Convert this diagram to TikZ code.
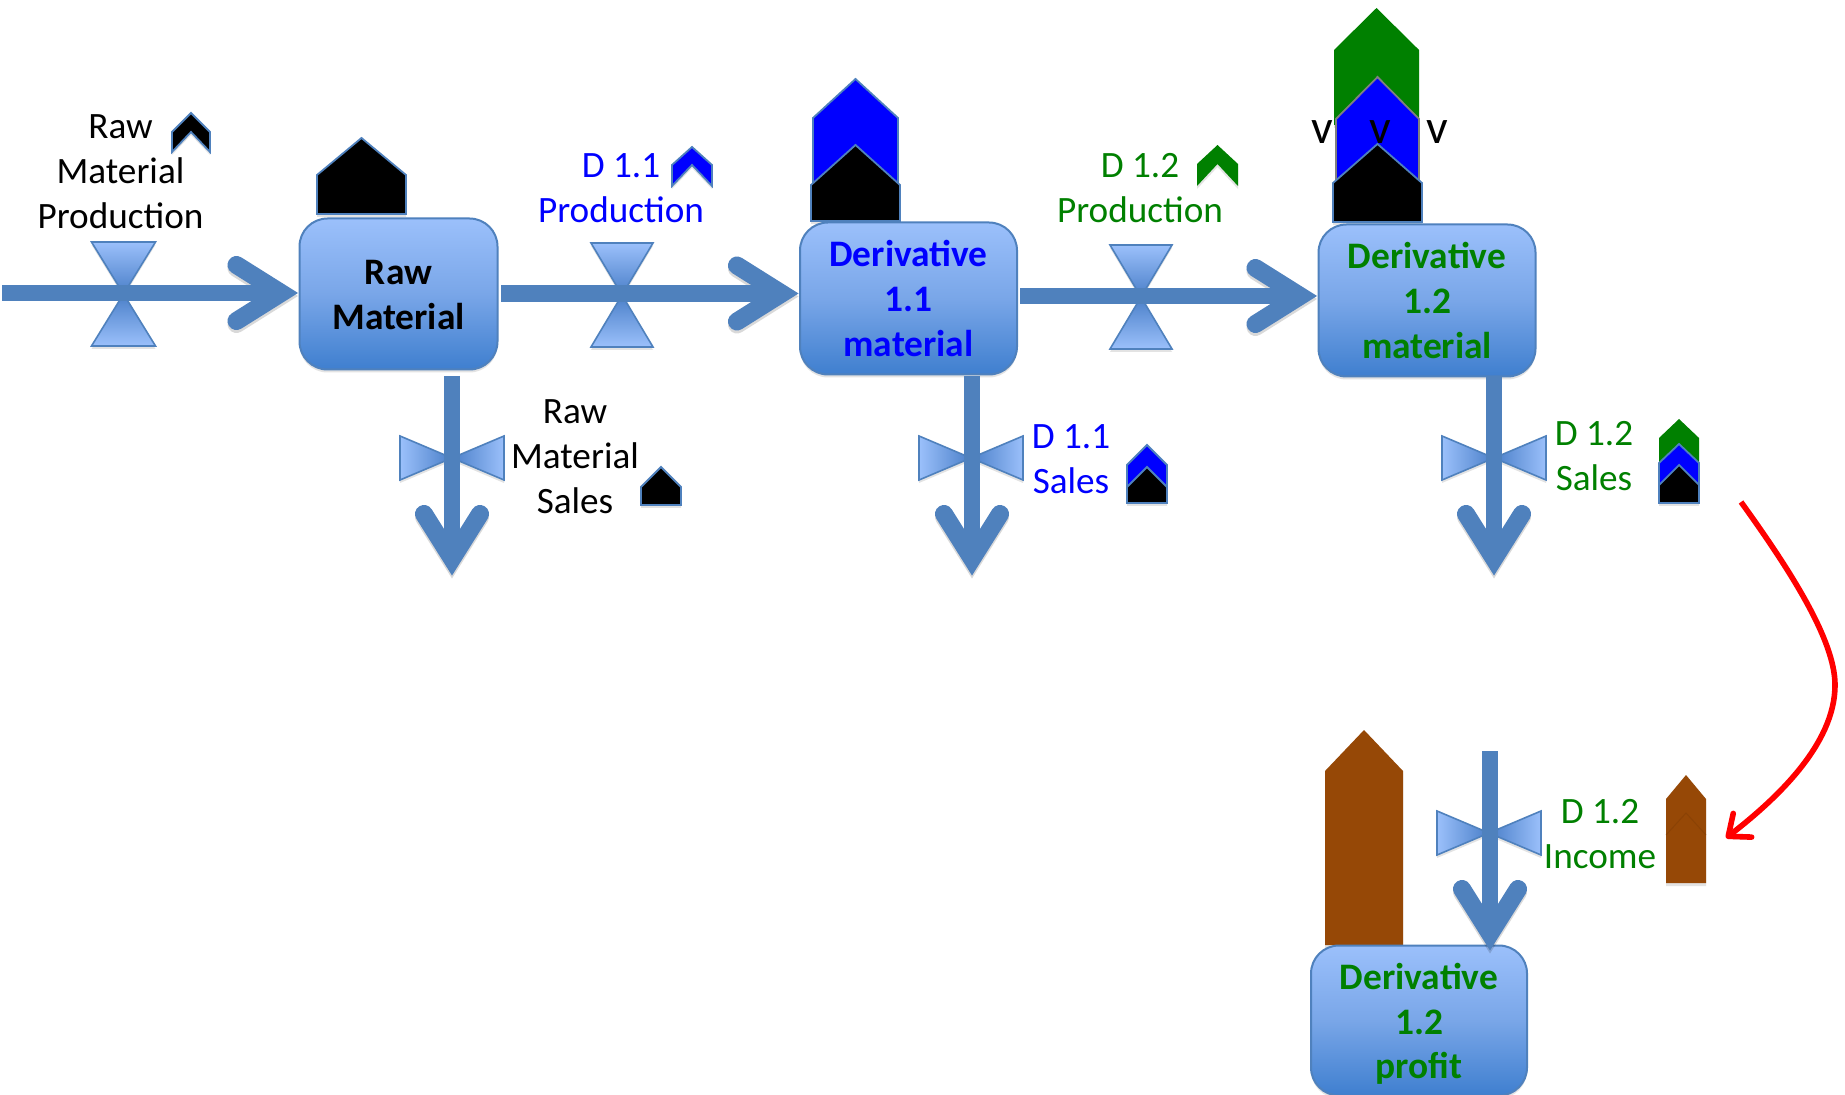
\documentclass[tikz,border=0pt]{standalone}
\usepackage{fontspec}
\setmainfont{Carlito}
\usetikzlibrary{arrows.meta,shadows,shadings}
\definecolor{flowblue}{HTML}{4F81BD}
\definecolor{boxtop}{HTML}{9BC0FB}
\definecolor{boxmid}{HTML}{79A6E8}
\definecolor{boxbot}{HTML}{3F7FCF}
\definecolor{valvedark}{HTML}{4A7FC8}
\definecolor{txtblue}{HTML}{0000FF}
\definecolor{txtgreen}{HTML}{008000}
\definecolor{brownbar}{HTML}{964806}
\pgfdeclarearrow{
  name=FlowHead,
  setup code={\pgfarrowssettipend{0pt}\pgfarrowssetlineend{-12pt}\pgfarrowssetbackend{-35pt}\pgfarrowssetvisualbackend{-12pt}},
  drawing code={
    \pgfsetlinewidth{9pt}\pgfsetroundcap\pgfsetmiterjoin\pgfsetmiterlimit{10}\pgfsetdash{}{0pt}
    \pgfpathmoveto{\pgfqpoint{-31pt}{14pt}}
    \pgfpathlineto{\pgfqpoint{-8.7pt}{0pt}}
    \pgfpathlineto{\pgfqpoint{-31pt}{-14pt}}
    \pgfusepathqstroke
  }
}
\tikzset{
  softshadow/.style={drop shadow={shadow xshift=0pt,shadow yshift=-1.5pt,opacity=.22}},
  stockbox/.style={rectangle,rounded corners=14pt,draw=flowblue,line width=1pt,
    top color=boxtop,bottom color=boxbot,middle color=boxmid,softshadow,
    inner sep=0pt,align=center,font=\fontsize{18.7}{22.3}\selectfont\bfseries},
  label/.style={inner sep=0pt,align=center,font=\fontsize{18.6}{22.5}\selectfont},
  flow/.style={draw=flowblue,line width=8.3pt,-{FlowHead},
    preaction={draw=black,opacity=.15,transform canvas={yshift=-1.5pt}}},
  valvepart/.style={draw=flowblue,line width=.8pt,softshadow},
  shapeblue/.style={draw=flowblue,line width=.9pt},
  redflow/.style={draw=red,line width=2.8pt,-{Straight Barb[length=9pt,width=15pt,line width=2.8pt,round]},
    preaction={draw=black,opacity=.15,transform canvas={yshift=-1.2pt}}},
  vmark/.style={inner sep=0pt,font=\fontsize{24}{26}\selectfont}
}
% house: fill, x left, x right, apex y, shoulder y, bottom y, extra style
\newcommand{\houseshape}[7]{%
  \path[fill=#1,softshadow,#7] (#2,#6) -- (#2,#5) -- ({(#2+#3)/2},#4) -- (#3,#5) -- (#3,#6) -- cycle;}
% chevron: fill, x left, x right, apex y, shoulder y, bottom y, extra style
\newcommand{\chevronshape}[7]{%
  \path[fill=#1,softshadow,#7] (#2,#6) -- (#2,#5) -- ({(#2+#3)/2},#4) -- (#3,#5) -- (#3,#6) -- ({(#2+#3)/2},#5) -- cycle;}
% valve on a horizontal flow: x, y, half width, half length
\newcommand{\valvehoriz}[4]{%
  \path[valvepart,top color=boxtop,bottom color=valvedark] ({#1-#3},{#2-#4}) -- ({#1+#3},{#2-#4}) -- (#1,#2) -- cycle;
  \path[valvepart,top color=valvedark,bottom color=boxtop] ({#1-#3},{#2+#4}) -- ({#1+#3},{#2+#4}) -- (#1,#2) -- cycle;}
% valve on a vertical flow: x, y, half width, half height
\newcommand{\valvevert}[4]{%
  \path[valvepart,left color=boxtop,right color=valvedark] ({#1-#3},{#2-#4}) -- ({#1-#3},{#2+#4}) -- (#1,#2) -- cycle;
  \path[valvepart,left color=valvedark,right color=boxtop] ({#1+#3},{#2-#4}) -- ({#1+#3},{#2+#4}) -- (#1,#2) -- cycle;}
\begin{document}
\begin{tikzpicture}[x=0.5pt,y=-0.5pt]
\useasboundingbox[fill=white] (0,0) rectangle (1845,1095);

% large stacks
\houseshape{black}{317}{406}{138}{175}{214}{shapeblue}
\houseshape{txtblue}{813}{898}{79}{118}{190}{shapeblue}
\houseshape{black}{811}{900}{145}{185}{221}{shapeblue}
\houseshape{txtgreen}{1334}{1419}{8}{50}{125}{}
\houseshape{txtblue}{1336}{1419}{77}{119}{190}{draw=gray,line width=.9pt}
\houseshape{black}{1333}{1422}{144}{183}{222}{shapeblue}
\houseshape{brownbar}{1325}{1403}{730}{771}{945}{}

% stocks
\node[stockbox,minimum width=99pt,minimum height=75.5pt,text=black] (rm) at (398.5,294) {\rule{0pt}{13pt}Raw\\Material};
\node[stockbox,minimum width=108.5pt,minimum height=76pt,text=txtblue] (dA) at (908.5,298.5) {\rule{0pt}{13pt}Derivative\\1.1\\material};
\node[stockbox,minimum width=108.5pt,minimum height=76pt,text=txtgreen] (dB) at (1427,300.5) {Derivative\\1.2\\material};
\node[stockbox,minimum width=108pt,minimum height=75pt,text=txtgreen] (pr) at (1419,1020.5) {\rule{0pt}{16.5pt}Derivative\\1.2\\profit};

% valves
\valvehoriz{123.5}{294}{32}{52}
\valvehoriz{622}{295}{31}{52}
\valvehoriz{1141}{297}{31}{52}
\valvevert{452}{458}{52}{22}
\valvevert{971}{458}{52}{22}
\valvevert{1494}{458}{52}{22}
\valvevert{1489}{833}{52}{22}

% flow end points
\coordinate (inA) at (2,293);
\coordinate (outA) at (501,293.5);
\coordinate (outB) at (1020,296);
\coordinate (sA) at (452,376);
\coordinate (eA) at (452,576);
\coordinate (sB) at (972,376);
\coordinate (eB) at (972,576);
\coordinate (sC) at (1494,376);
\coordinate (eC) at (1494,576);
\coordinate (sD) at (1490,751);
\coordinate (eD) at (1490,951);
\coordinate (redS) at (1741,502);
\coordinate (redM) at (1835,685);
\coordinate (redE) at (1726,838);

% flows
\draw[flow] (inA) -- (inA -| rm.west);
\draw[flow] (outA) -- (outA -| dA.west);
\draw[flow] (outB) -- (outB -| dB.west);
\draw[flow] (sA) -- (eA);
\draw[flow] (sB) -- (eB);
\draw[flow] (sC) -- (eC);
\draw[flow] (sD) -- (eD);
\draw[redflow] (redS) .. controls (1790,570) and (1835,640) .. (redM) .. controls (1835,745) and (1775,800) .. (redE);

% small markers
\chevronshape{black}{172}{210}{113}{132}{152}{shapeblue}
\chevronshape{txtblue}{672}{712}{147}{165}{186}{shapeblue}
\chevronshape{txtgreen}{1197}{1238}{145}{164}{186}{}
\houseshape{black}{641}{681}{467}{487}{505}{shapeblue}
\houseshape{txtblue}{1127}{1167}{445}{465}{490}{shapeblue}
\houseshape{black}{1127}{1167}{467}{487}{503}{shapeblue}
\houseshape{txtgreen}{1659}{1699}{419}{438}{470}{}
\houseshape{txtblue}{1659}{1699}{444}{463}{485}{shapeblue}
\houseshape{black}{1659}{1699}{465}{485}{503}{shapeblue}
\houseshape{brownbar}{1666}{1706}{775}{799}{883}{}
\draw[brownbar!85!black,opacity=.5,line width=.5pt] (1666,835) -- (1686,813) -- (1706,835);

% labels
\node[label] (tA) at (120.5,172) {Raw\\Material\\Production};
\node[label,text=txtblue] (tB) at (621,188) {D 1.1\\Production};
\node[label,text=txtgreen] (tC) at (1140,188) {D 1.2\\Production};
\node[label] (tD) at (575,457) {Raw\\Material\\Sales};
\node[label,text=txtblue] (tE) at (1071,459) {D 1.1\\Sales};
\node[label,text=txtgreen] (tF) at (1594,456) {D 1.2\\Sales};
\node[label,text=txtgreen] (tG) at (1600,834) {D 1.2\\Income};
\node[vmark] (vA) at (1322,132) {v};
\node[vmark] (vB) at (1380,132) {v};
\node[vmark] (vC) at (1437,132) {v};
\end{tikzpicture}
\end{document}
